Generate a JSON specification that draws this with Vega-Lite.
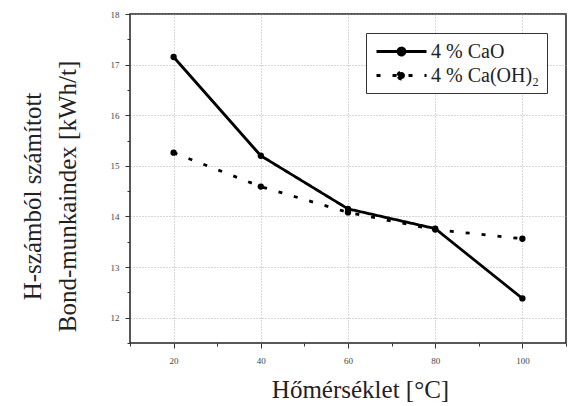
{
  "$schema": "https://vega.github.io/schema/vega-lite/v6.json",
  "width": 436,
  "height": 329,
  "autosize": "none",
  "padding": {"left": 130, "top": 14, "right": 3, "bottom": 63},
  "background": "white",
  "config": {
    "view": {"stroke": "#222", "strokeWidth": 1.5},
    "font": "Liberation Serif",
    "axis": {"labelFont": "Liberation Serif", "titleFont": "Liberation Serif"},
    "legend": {"labelFont": "Liberation Serif"}
  },
  "data": {
    "values": [
      {"t": 20, "v": 17.15, "s": "4 % CaO"},
      {"t": 40, "v": 15.2, "s": "4 % CaO"},
      {"t": 60, "v": 14.15, "s": "4 % CaO"},
      {"t": 80, "v": 13.76, "s": "4 % CaO"},
      {"t": 100, "v": 12.38, "s": "4 % CaO"},
      {"t": 20, "v": 15.26, "s": "4 % Ca(OH)₂"},
      {"t": 40, "v": 14.59, "s": "4 % Ca(OH)₂"},
      {"t": 60, "v": 14.08, "s": "4 % Ca(OH)₂"},
      {"t": 80, "v": 13.74, "s": "4 % Ca(OH)₂"},
      {"t": 100, "v": 13.56, "s": "4 % Ca(OH)₂"}
    ]
  },
  "encoding": {
    "x": {
      "field": "t", "type": "quantitative",
      "scale": {"domain": [10, 110], "nice": false, "zero": false},
      "axis": {
        "values": [10, 20, 30, 40, 50, 60, 70, 80, 90, 100, 110],
        "labelExpr": "(datum.value % 20 == 0 && datum.value >= 20 && datum.value <= 100) ? format(datum.value, 'd') : ''",
        "title": "Hőmérséklet [°C]",
        "titleFontSize": 25, "titleFontWeight": "normal", "titleColor": "#222",
        "titlePadding": 12, "titleX": 230,
        "labelFontSize": 9, "labelColor": "#444", "labelPadding": 8,
        "grid": true, "gridColor": "#999", "gridDash": [1, 2], "gridWidth": 0.8,
        "gridOpacity": {"condition": {"test": "datum.value % 20 == 0", "value": 1}, "value": 0},
        "tickSize": {"condition": {"test": "datum.value % 20 == 0", "value": 5}, "value": 3},
        "domain": false, "tickColor": "#333"
      }
    },
    "y": {
      "field": "v", "type": "quantitative",
      "scale": {"domain": [11.5, 18], "nice": false, "zero": false},
      "axis": {
        "values": [11.5, 12, 12.5, 13, 13.5, 14, 14.5, 15, 15.5, 16, 16.5, 17, 17.5, 18],
        "labelExpr": "(datum.value % 1 == 0) ? format(datum.value, 'd') : ''",
        "title": ["H-számból számított", "Bond-munkaindex [kWh/t]"],
        "titleFontSize": 25, "titleFontWeight": "normal", "titleColor": "#222",
        "titleLineHeight": 35,
        "titlePadding": 30, "titleY": 182,
        "labelFontSize": 9, "labelColor": "#444", "labelPadding": 6,
        "grid": true, "gridColor": "#999", "gridDash": [1, 2], "gridWidth": 0.8,
        "gridOpacity": {"condition": {"test": "datum.value % 1 == 0", "value": 1}, "value": 0},
        "tickSize": {"condition": {"test": "datum.value % 1 == 0", "value": 5}, "value": 3},
        "domain": false, "tickColor": "#333"
      }
    }
  },
  "layer": [
    {
      "mark": {"type": "line", "color": "black", "strokeWidth": 2.8},
      "encoding": {
        "strokeDash": {
          "field": "s", "type": "nominal",
          "scale": {"domain": ["4 % CaO", "4 % Ca(OH)₂"], "range": [[1, 0], [4, 12]]},
          "legend": {
            "title": null,
            "orient": "none", "legendX": 236, "legendY": 19,
            "strokeColor": "#333", "padding": 7, "fillColor": "white",
            "symbolType": "M-2.5,0H2.5M-0.35,0A0.35,0.35 0 1,1 0.35,0A0.35,0.35 0 1,1 -0.35,0",
            "symbolSize": 400, "symbolStrokeWidth": 2.8, "symbolStrokeColor": "black", "symbolFillColor": "black",
            "symbolOffset": 17,
            "labelFontSize": 20, "labelColor": "#222",
            "rowPadding": 2, "labelOffset": 18
          }
        }
      }
    },
    {
      "mark": {"type": "point", "filled": true, "color": "black", "size": 40, "opacity": 1},
      "encoding": {}
    }
  ]
}
